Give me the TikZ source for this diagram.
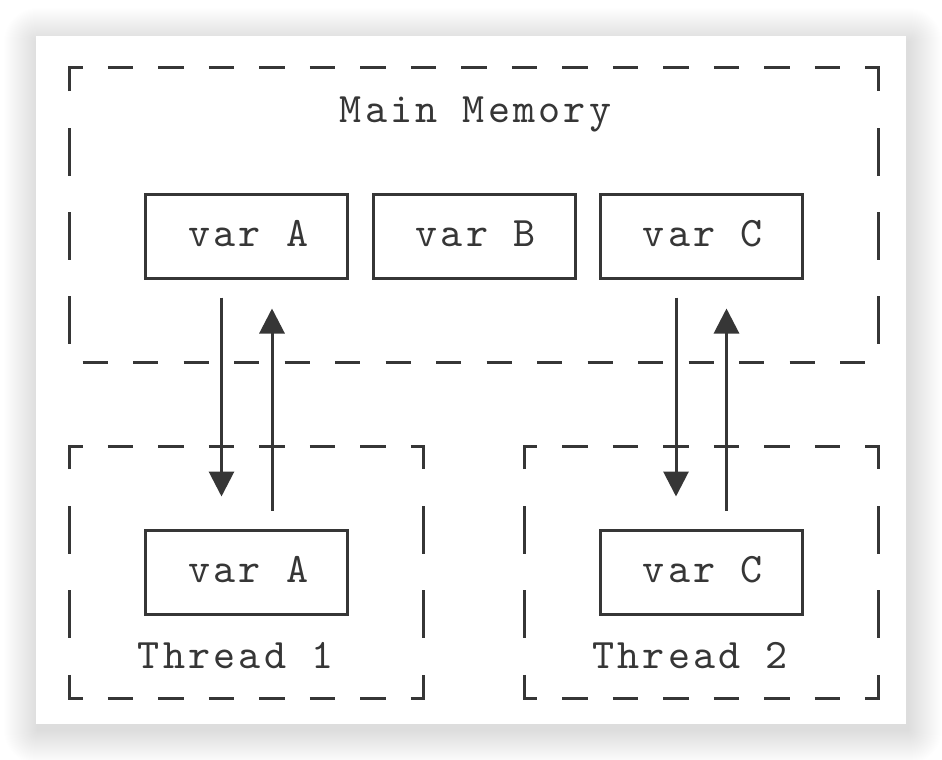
\documentclass[tikz,border=0pt]{standalone}
\usepackage{fontspec}
\newfontfamily\cfont{lmmono10-regular.otf}[LetterSpace=7.6]
\usetikzlibrary{arrows.meta,calc}
\definecolor{ink}{HTML}{363636}
\tikzset{
  x=25.25pt, y=-42pt,
  seg/.style={draw=ink, line width=3pt},
  vbox/.style={draw=ink, line width=3pt, minimum width=202pt, minimum height=84pt,
    inner sep=0pt, text height=25pt, text depth=4pt, font=\cfont\fontsize{42}{50}\selectfont, text=ink},
  lbl/.style={anchor=base, inner sep=0pt, font=\cfont\fontsize{42}{50}\selectfont, text=ink},
  arr/.style={draw=ink, line width=3pt, -{Triangle[length=25pt,width=25pt]}},
}
\begin{document}
\begin{tikzpicture}
\useasboundingbox (-70pt,68pt) rectangle (872pt,-692pt);
% background and card shadow
\fill[white] (-70pt,68pt) rectangle (872pt,-692pt);
\foreach \i in {1,...,34}{
  \fill[black, opacity=0.0042, rounded corners=\i pt]
    ($(-34pt,32pt)+(-\i pt+2pt,\i pt-6pt)$) rectangle ($(836pt,-656pt)+(\i pt+2pt,-\i pt-6pt)$);
}
\fill[white] (-34pt,32pt) rectangle (836pt,-656pt);

% ---- Main Memory dashed frame (cols 0..32, rows 0..7)
\draw[seg] (0,0.55) -- (0,0) -- (0.5,0);
\draw[seg] (31.5,0) -- (32,0) -- (32,0.55);
\foreach \c in {2,4,...,30} \draw[seg] (\c-0.5,0) -- (\c+0.5,0);
\foreach \r in {2,4,6} {
  \draw[seg] (0,\r-0.57) -- (0,\r+0.57);
  \draw[seg] (32,\r-0.57) -- (32,\r+0.57);
}
\foreach \c in {1,3,...,31} \draw[seg] (\c-0.5,7) -- (\c+0.5,7);

% ---- Thread frames (rows 9..15)
\foreach \a/\b in {0/14,18/32}{
  \draw[seg] (\a,9.55) -- (\a,9) -- (\a+0.5,9);
  \draw[seg] (\b-0.5,9) -- (\b,9) -- (\b,9.55);
  \draw[seg] (\a,14.45) -- (\a,15) -- (\a+0.5,15);
  \draw[seg] (\b-0.5,15) -- (\b,15) -- (\b,14.45);
  \pgfmathtruncatemacro{\s}{\a+2}
  \pgfmathtruncatemacro{\t}{\a+4}
  \pgfmathtruncatemacro{\e}{\b-2}
  \foreach \c in {\s,\t,...,\e} {
    \draw[seg] (\c-0.5,9) -- (\c+0.5,9);
    \draw[seg] (\c-0.5,15) -- (\c+0.5,15);
  }
  \foreach \r in {11,13} {
    \draw[seg] (\a,\r-0.57) -- (\a,\r+0.57);
    \draw[seg] (\b,\r-0.57) -- (\b,\r+0.57);
  }
}

% ---- labels
\node[lbl] (mm) at (16.06,1.29) {Main Memory};
\node[lbl] (t1) at (6.56,14.29) {Thread 1};
\node[lbl] (t2) at (24.56,14.29) {Thread 2};

% ---- variable boxes
\node[vbox] (mA) at (7,4) {\hspace*{3pt}var A};
\node[vbox] (mB) at (16,4) {\hspace*{3pt}var B};
\node[vbox] (mC) at (25,4) {\hspace*{3pt}var C};
\node[vbox] (tA) at (7,12) {\hspace*{3pt}var A};
\node[vbox] (tC) at (25,12) {\hspace*{3pt}var C};

% ---- arrows
\draw[arr] ([xshift=-25.25pt,yshift=-18pt]mA.south) -- ([xshift=-25.25pt,yshift=32pt]tA.north);
\draw[arr] ([xshift=25.25pt,yshift=18pt]tA.north) -- ([xshift=25.25pt,yshift=-29pt]mA.south);
\draw[arr] ([xshift=-25.25pt,yshift=-18pt]mC.south) -- ([xshift=-25.25pt,yshift=32pt]tC.north);
\draw[arr] ([xshift=25.25pt,yshift=18pt]tC.north) -- ([xshift=25.25pt,yshift=-29pt]mC.south);
\end{tikzpicture}
\end{document}
